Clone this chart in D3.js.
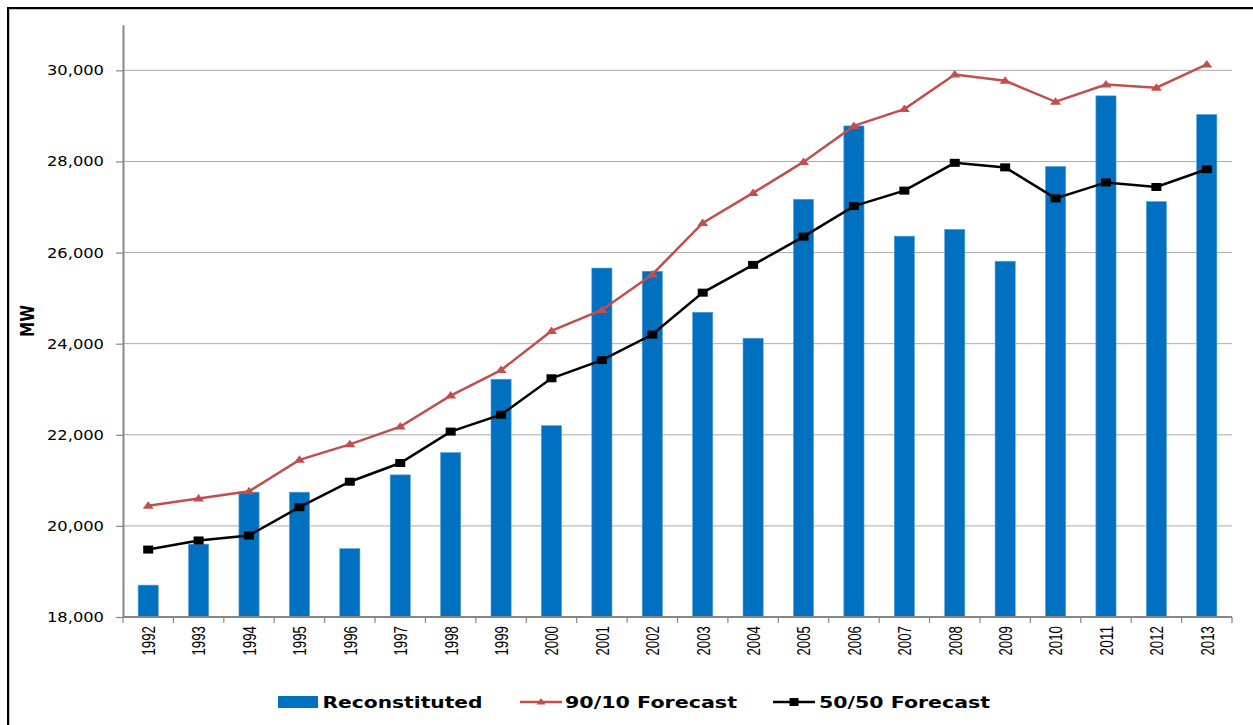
<!DOCTYPE html>
<html>
<head>
<meta charset="utf-8">
<script src="https://cdn.jsdelivr.net/npm/d3@7"></script>
<style>
  html, body { margin: 0; padding: 0; background: #ffffff; }
  svg { display: block; }
</style>
</head>
<body>
<svg id="chart" width="1253" height="725"></svg>
<script>
const years = ["1992","1993","1994","1995","1996","1997","1998","1999","2000","2001","2002","2003","2004","2005","2006","2007","2008","2009","2010","2011","2012","2013"];
const reconstituted = [18700, 19600, 20740, 20740, 19500, 21120, 21610, 23220, 22200, 25660, 25590, 24690, 24120, 27170, 28780, 26360, 26510, 25810, 27890, 29440, 27120, 29030];
const forecast9010 = [20440, 20600, 20760, 21450, 21790, 22180, 22860, 23420, 24280, 24740, 25520, 26650, 27310, 27990, 28780, 29150, 29910, 29770, 29310, 29690, 29620, 30130];
const forecast5050 = [19480, 19680, 19790, 20410, 20970, 21380, 22070, 22440, 23240, 23640, 24200, 25120, 25730, 26350, 27020, 27360, 27970, 27870, 27190, 27540, 27440, 27830];
const yTicks = [18000, 20000, 22000, 24000, 26000, 28000, 30000];
const seriesNames = ["Reconstituted", "90/10 Forecast", "50/50 Forecast"];

const svg = d3.select("#chart");
const L = 123, R = 1232, T = 24.8, B = 617;

const x = d3.scaleBand().domain(years).range([L, R]).paddingInner(0.6).paddingOuter(0.3);
const y = d3.scaleLinear().domain([18000, 31000]).range([B, T]);
const cx = d => x(d) + x.bandwidth() / 2;

// outer frame
svg.append("rect").attr("x", 9.5).attr("y", 9.5).attr("width", 1300).attr("height", 800)
  .attr("fill", "none").attr("stroke", "#c8c8c8").attr("stroke-width", 1);
svg.append("rect").attr("x", 8).attr("y", 8).attr("width", 1300).attr("height", 800)
  .attr("fill", "none").attr("stroke", "#000").attr("stroke-width", 2);

// gridlines
svg.append("g").selectAll("line").data(yTicks.filter(v => v > 18000)).join("line")
  .attr("x1", L).attr("x2", R).attr("y1", d => y(d)).attr("y2", d => y(d))
  .attr("stroke", "#ababab").attr("stroke-width", 1);

// bars
svg.append("g").selectAll("rect").data(years).join("rect")
  .attr("x", d => x(d)).attr("width", x.bandwidth())
  .attr("y", (d, i) => y(reconstituted[i]))
  .attr("height", (d, i) => B - y(reconstituted[i]))
  .attr("fill", "#0070C0").attr("stroke", "#5aa0d8").attr("stroke-width", 0.6);

// y axis
const yAxis = svg.append("g").attr("transform", `translate(${L},0)`)
  .call(d3.axisLeft(y).tickValues(yTicks).tickFormat(d3.format(",")).tickSize(7).tickPadding(12).tickSizeOuter(0));
yAxis.select(".domain").attr("stroke", "#878787").attr("stroke-width", 2);
yAxis.selectAll(".tick line").attr("stroke", "#878787").attr("stroke-width", 1.2);
yAxis.selectAll(".tick text").attr("font-family", "DejaVu Sans").attr("font-size", 14).attr("fill", "#000")
  .attr("textLength", 57).attr("lengthAdjust", "spacingAndGlyphs");

// x axis
const bounds = years.map(d => x(d) - x.step() * x.paddingInner() / 2);
bounds.push(x(years[years.length - 1]) + x.bandwidth() + x.step() * x.paddingInner() / 2);
const xg = svg.append("g");
xg.append("line").attr("x1", L).attr("x2", R).attr("y1", B).attr("y2", B).attr("stroke", "#878787").attr("stroke-width", 2);
xg.selectAll("line.t").data(bounds).join("line").attr("class", "t")
  .attr("x1", d => d).attr("x2", d => d).attr("y1", B).attr("y2", B + 6)
  .attr("stroke", "#878787").attr("stroke-width", 1.2);
xg.selectAll("text").data(years).join("text")
  .attr("transform", d => `translate(${cx(d)},626) rotate(-90)`)
  .attr("text-anchor", "end").attr("dy", "0.36em")
  .attr("font-family", "Liberation Sans").attr("font-size", 19).attr("fill", "#000")
  .attr("textLength", 29.5).attr("lengthAdjust", "spacingAndGlyphs")
  .text(d => d);

// y label
svg.append("text").attr("transform", "translate(27,321) rotate(-90)")
  .attr("text-anchor", "middle").attr("dy", "0.36em")
  .attr("font-family", "DejaVu Sans").attr("font-weight", "bold").attr("font-size", 19)
  .attr("textLength", 32).attr("lengthAdjust", "spacingAndGlyphs").text("MW");

// lines
const line = d3.line().x(d => cx(d[0])).y(d => y(d[1]));
const tri = "M0,-4.5L5.5,3L-5.5,3Z";
const red = "#C0504D";
svg.append("path").datum(years.map((d, i) => [d, forecast9010[i]]))
  .attr("d", line).attr("fill", "none").attr("stroke", red).attr("stroke-width", 2.5);
svg.append("g").selectAll("path").data(years).join("path")
  .attr("transform", (d, i) => `translate(${cx(d)},${y(forecast9010[i])})`)
  .attr("d", tri).attr("fill", red);

svg.append("path").datum(years.map((d, i) => [d, forecast5050[i]]))
  .attr("d", line).attr("fill", "none").attr("stroke", "#000").attr("stroke-width", 2.5);
svg.append("g").selectAll("rect").data(years).join("rect")
  .attr("x", d => cx(d) - 5).attr("width", 10)
  .attr("y", (d, i) => y(forecast5050[i]) - 4).attr("height", 8)
  .attr("fill", "#000");

// legend
const lg = svg.append("g").attr("font-family", "DejaVu Sans").attr("font-weight", "bold").attr("font-size", 16).attr("fill", "#000");
lg.append("rect").attr("x", 278).attr("y", 696).attr("width", 40).attr("height", 12).attr("fill", "#0070C0");
lg.append("text").attr("x", 322.5).attr("y", 707.5).attr("textLength", 160).attr("lengthAdjust", "spacingAndGlyphs").text(seriesNames[0]);

lg.append("line").attr("x1", 520).attr("x2", 562).attr("y1", 702).attr("y2", 702).attr("stroke", red).attr("stroke-width", 2.5);
lg.append("path").attr("transform", "translate(541,702)").attr("d", "M0,-4L4.5,2.5L-4.5,2.5Z").attr("fill", red);
lg.append("text").attr("x", 565).attr("y", 707.5).attr("textLength", 172).attr("lengthAdjust", "spacingAndGlyphs").text(seriesNames[1]);

lg.append("line").attr("x1", 773).attr("x2", 815).attr("y1", 702).attr("y2", 702).attr("stroke", "#000").attr("stroke-width", 2.5);
lg.append("rect").attr("x", 789.5).attr("y", 698).attr("width", 9).attr("height", 8).attr("fill", "#000");
lg.append("text").attr("x", 819).attr("y", 707.5).attr("textLength", 171).attr("lengthAdjust", "spacingAndGlyphs").text(seriesNames[2]);
</script>
</body>
</html>
